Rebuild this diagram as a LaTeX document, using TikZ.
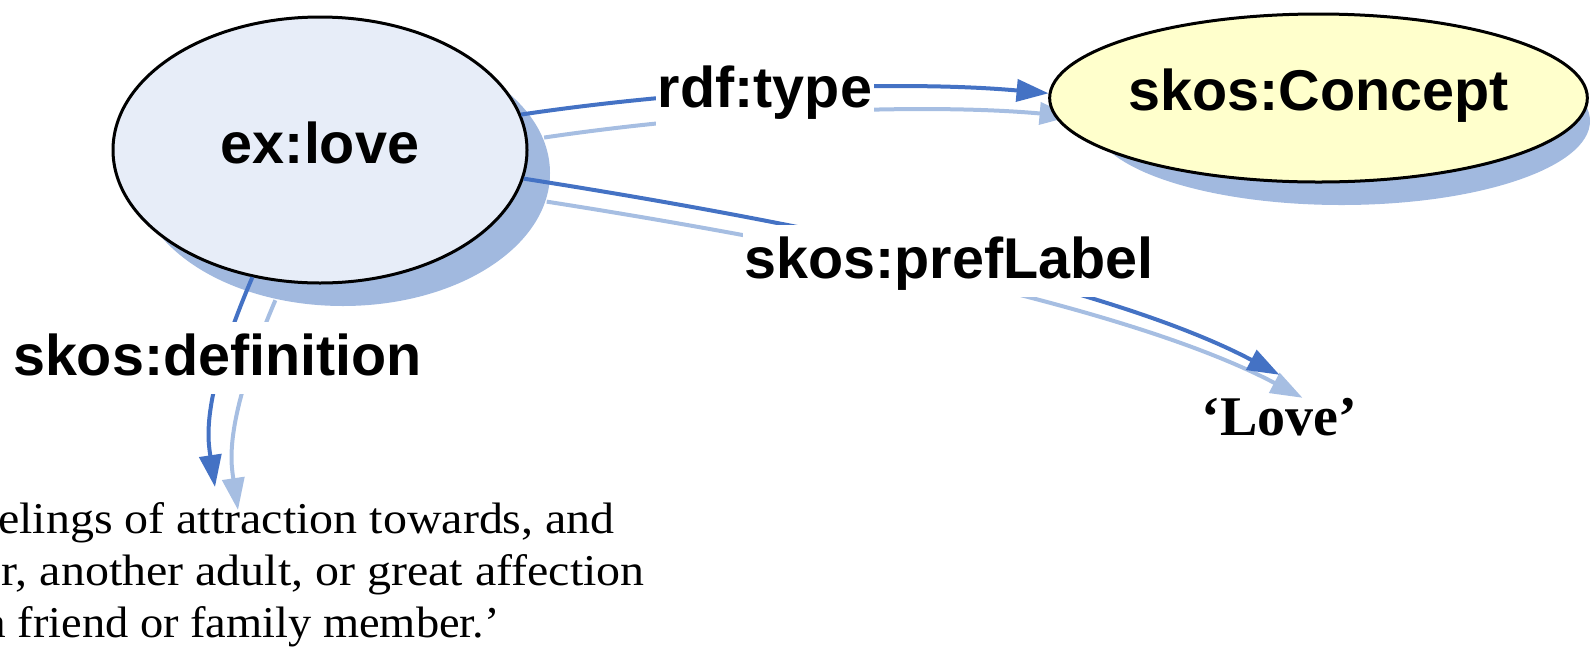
\documentclass[tikz,border=0pt]{standalone}
\usepackage{fontspec}
\usetikzlibrary{shapes.geometric,arrows.meta,calc}
\newfontfamily\lblfont{Liberation Sans}
\newfontfamily\litfont{Liberation Serif}
\newfontfamily\deffont{Liberation Serif}[FakeStretch=1.09]
\newfontfamily\deffontn{Liberation Serif}[FakeStretch=1.055]
\definecolor{edgeblue}{RGB}{68,114,196}
\definecolor{edgeshadow}{RGB}{166,190,226}
\definecolor{nodeshadow}{RGB}{161,185,223}
\definecolor{lovefill}{RGB}{231,237,248}
\definecolor{conceptfill}{RGB}{255,255,204}
\pgfdeclarelayer{bg}
\pgfsetlayers{bg,main}
\begin{document}
\begin{tikzpicture}[x=1pt,y=-1pt,
  resource/.style={ellipse, draw=black, line width=3pt, inner sep=0pt,
    font=\lblfont\bfseries\fontsize{57.5pt}{60pt}\selectfont, text height=41pt},
  prop/.style={fill=white, inner xsep=2pt, inner ysep=0pt, text height=53pt, text depth=19pt,
    font=\lblfont\bfseries\fontsize{57.5pt}{60pt}\selectfont},
  deftext/.style={font=\deffont\fontsize{44pt}{52pt}\selectfont, inner sep=0pt},
  conn/.style={draw=edgeblue, line width=4pt, -{Triangle[length=32pt,width=22pt]}},
  connshade/.style={draw=edgeshadow, line width=4pt, -{Triangle[length=32pt,width=22pt]},
    transform canvas={shift={(23pt,-23pt)}}},
]
\useasboundingbox (0,0) rectangle (1591,649);
\clip (0,0) rectangle (1591,649);

% nodes
\node[resource, fill=lovefill, minimum width=414pt, minimum height=266pt, text depth=15pt] (love) at (320,150) {ex:love};
\node[resource, fill=conceptfill, minimum width=497pt, minimum height=168pt, text depth=17pt] (concept) at (1318.5,98) {skos:Concept};
\node[font=\litfont\bfseries\fontsize{56pt}{60pt}\selectfont, anchor=base, inner xsep=0pt, inner ysep=22pt, text height=38pt] (lovelit) at (1279.5,435) {‘Love’};
\node[deftext, anchor=base east] (def1) at (615,533) {elings of attraction towards, and};
\node[deftext, anchor=base east] (def2) at (645,585) {r, another adult, or great affection};
\node[deftext, font=\deffontn\fontsize{44pt}{52pt}\selectfont, anchor=base east] (def3) at (500,637) {a friend or family member.’};
\coordinate (deftarget) at (215,487);

% shadows
\begin{pgfonlayer}{bg}
\fill[nodeshadow] (343,173) ellipse [x radius=207, y radius=133];
\fill[nodeshadow] (1341.5,121) ellipse [x radius=248.5, y radius=84];
\draw[connshade] (love.10) .. controls (700,88) and (900,80) .. (concept.179);
\draw[connshade] (love.-8) .. controls (800,222) and (1110,285) .. (lovelit.north);
\draw[connshade] (love.-118) .. controls (200,400) and (208,440) .. (deftarget);
\end{pgfonlayer}

% connectors
\draw[conn] (love.10) .. controls (700,88) and (900,80) .. (concept.179);
\draw[conn] (love.-8) .. controls (800,222) and (1110,285) .. (lovelit.north);
\draw[conn] (love.-118) .. controls (200,400) and (208,440) .. (deftarget);

% labels
\node[prop, anchor=base] (ltype) at (765,107) {rdf:type};
\node[prop, anchor=base] (lpref) at (949,278) {skos:prefLabel};
\node[prop, anchor=base] (ldef) at (217.5,375) {skos:definition};
\end{tikzpicture}
\end{document}
